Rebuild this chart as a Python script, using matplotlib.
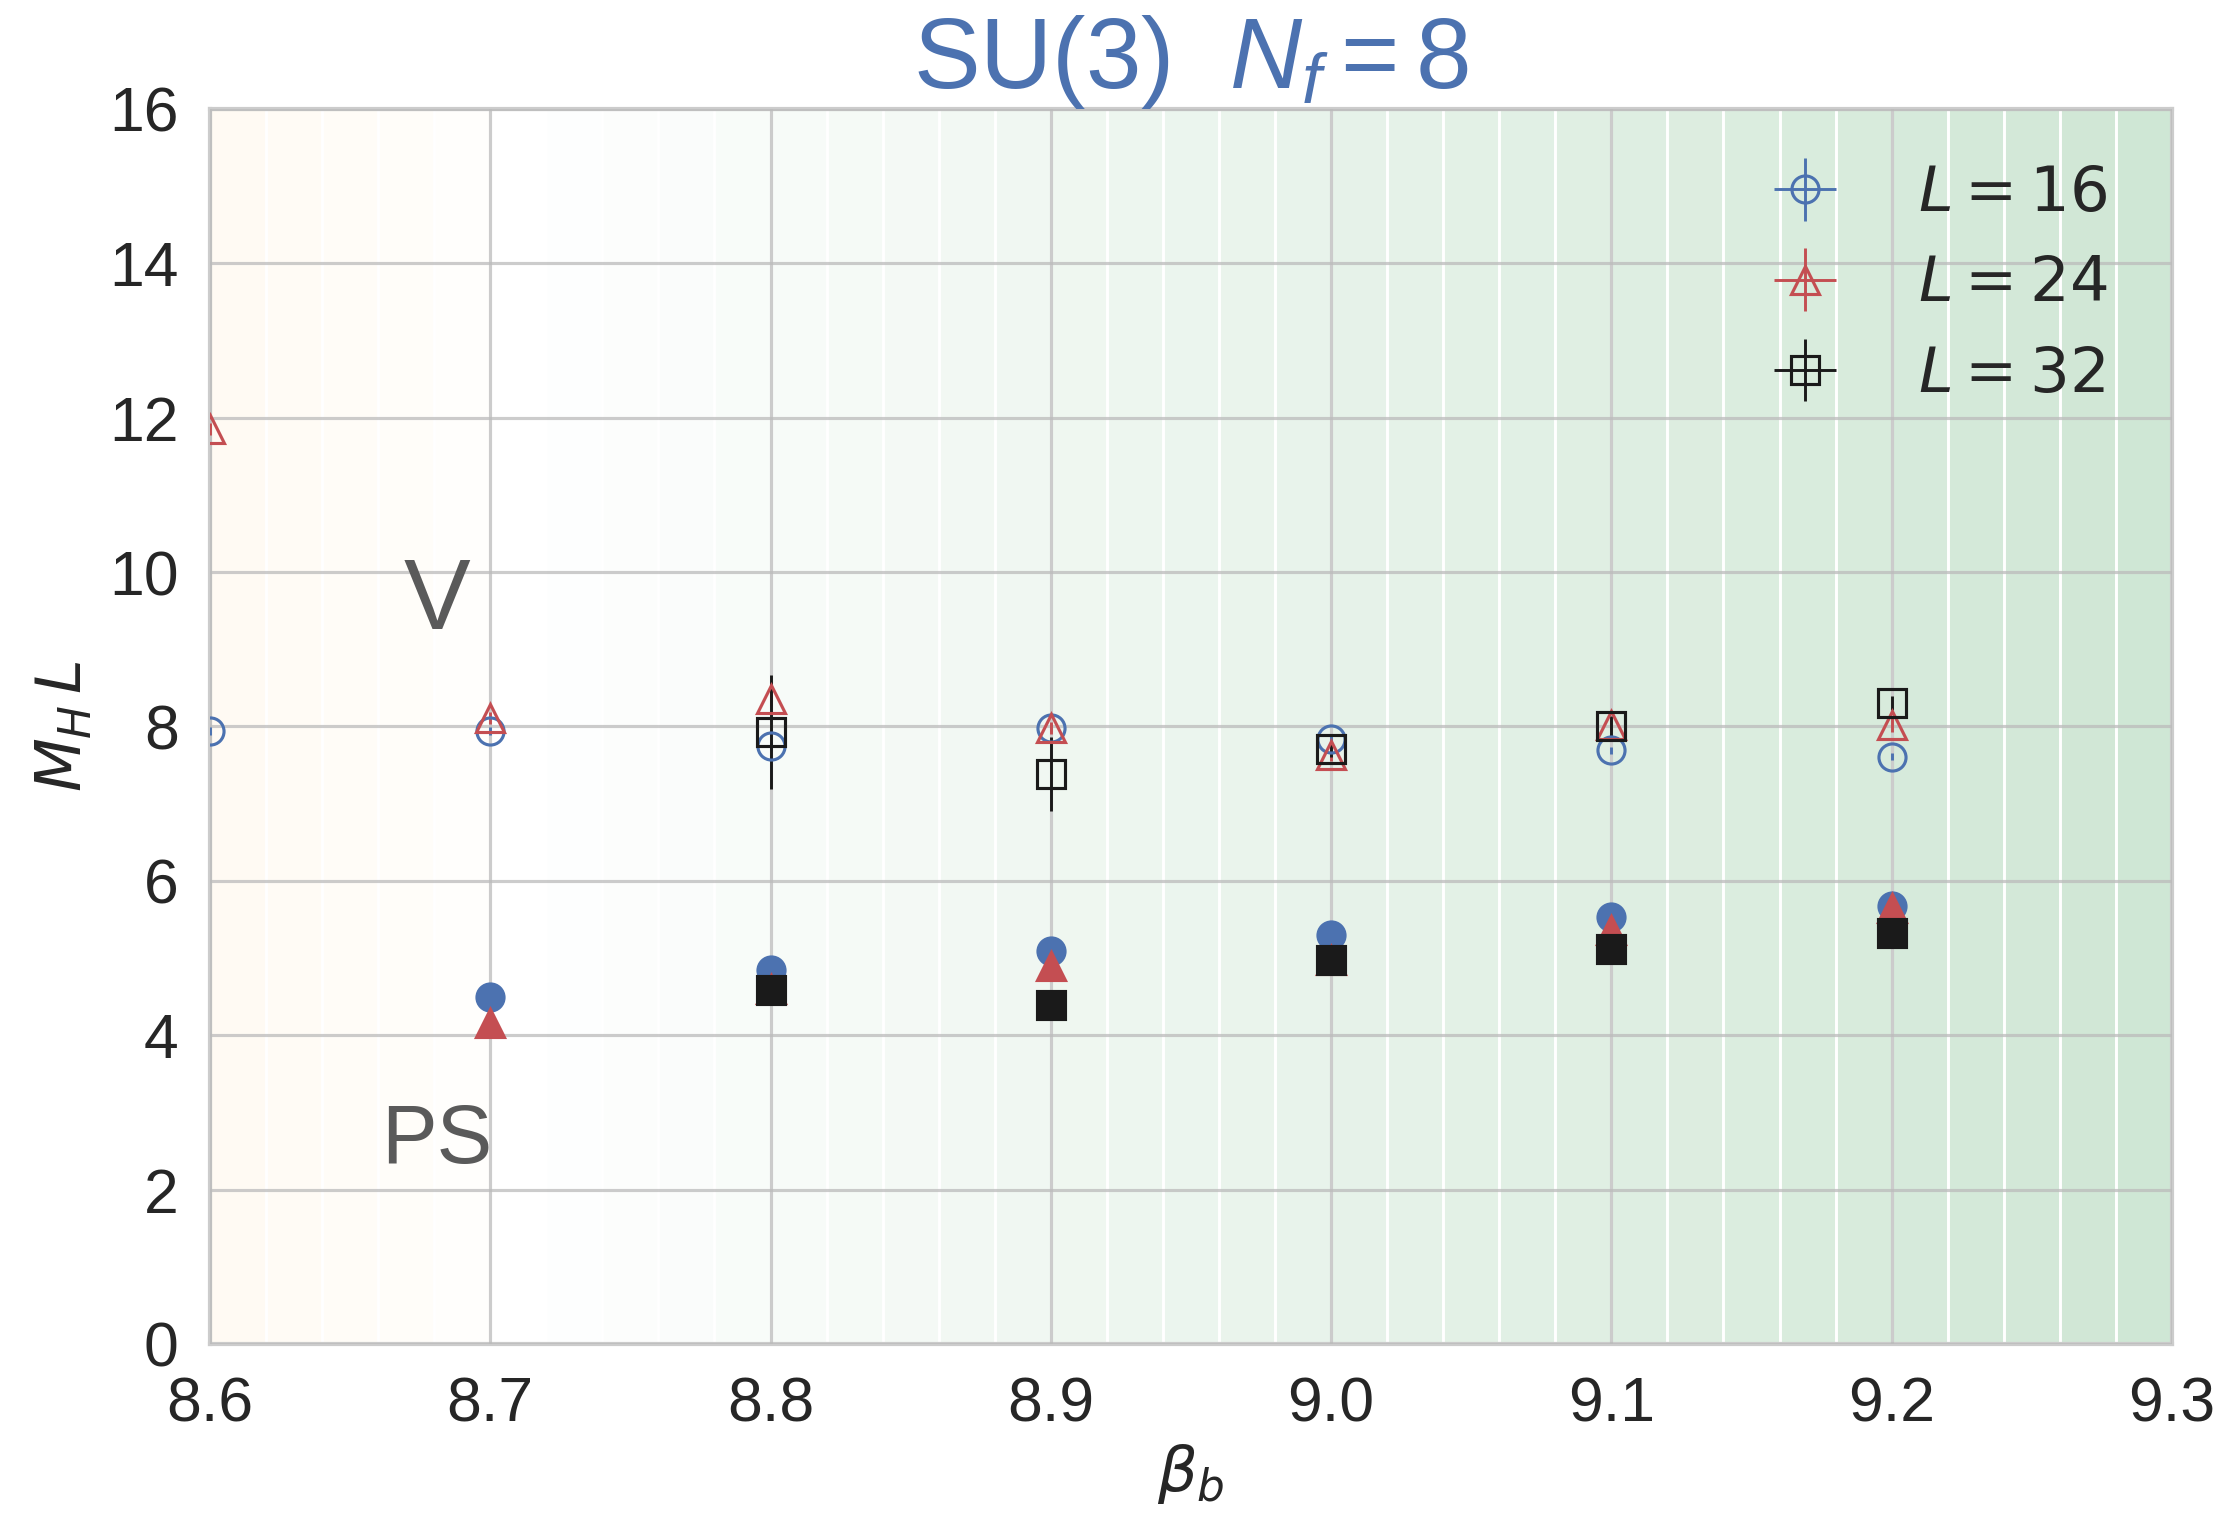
import numpy as np
import matplotlib
matplotlib.use("Agg")
import matplotlib.pyplot as plt
import matplotlib.colors as mcolors
import seaborn as sns

# vector (V) channel, open markers
beta_16 = [8.6, 8.7, 8.8, 8.9, 9.0, 9.1, 9.2]
v_16 = [7.94, 7.94, 7.75, 7.98, 7.84, 7.69, 7.61]
v_16_err = [0.05, 0.05, 0.05, 0.05, 0.05, 0.05, 0.05]
beta_24 = [8.6, 8.7, 8.8, 8.9, 9.0, 9.1, 9.2]
v_24 = [11.85, 8.11, 8.35, 7.98, 7.63, 8.02, 8.02]
v_24_err = [0.08, 0.08, 0.08, 0.08, 0.08, 0.08, 0.09]
beta_32 = [8.8, 8.9, 9.0, 9.1, 9.2]
v_32 = [7.93, 7.39, 7.71, 8.00, 8.30]
v_32_err = [0.74, 0.48, 0.10, 0.14, 0.09]

# pseudoscalar (PS) channel, filled markers
ps_beta_16 = [8.7, 8.8, 8.9, 9.0, 9.1, 9.2]
ps_16 = [4.49, 4.84, 5.09, 5.30, 5.53, 5.67]
ps_beta_24 = [8.7, 8.8, 8.9, 9.0, 9.1, 9.2]
ps_24 = [4.16, 4.60, 4.90, 4.98, 5.36, 5.65]
ps_beta_32 = [8.8, 8.9, 9.0, 9.1, 9.2]
ps_32 = [4.59, 4.39, 4.98, 5.12, 5.33]

labels = ['$L = 16$', '$L = 24$', '$L = 32$']
colors = ['#4c72b0', '#c44e52', '#1a1a1a']
markers = ['o', '^', 's']

sns.set_style('whitegrid')
plt.rcParams['font.family'] = ['Liberation Sans', 'DejaVu Sans']
plt.rcParams['mathtext.rm'] = 'Liberation Sans'
plt.rcParams['mathtext.it'] = 'Liberation Sans:italic'

fig = plt.figure(figsize=(2229 / 300, 1513 / 300), dpi=300)
ax = fig.add_axes([0.0942, 0.1117, 0.9744 - 0.0942, 0.928 - 0.1117])


def tint(c, a):
    rgb = np.array(mcolors.to_rgb(c))
    return tuple(1 - a * (1 - rgb))


# striped background: orange fading to white, then growing green
edges = np.arange(8.6, 9.3 + 1e-9, 0.02)
for e0, e1 in zip(edges[:-1], edges[1:]):
    if e0 < 8.695:
        fc = tint('#ff9f1c', 0.055 * (8.71 - e0) / 0.11)
    elif e0 < 8.715:
        fc = 'white'
    else:
        fc = tint('#55a868', 0.28 * (e1 - 8.72) / 0.58)
    ax.axvspan(e0, e1, facecolor=fc, edgecolor='white', lw=0.7, zorder=0.2)

v_sets = [(beta_16, v_16, v_16_err), (beta_24, v_24, v_24_err),
          (beta_32, v_32, v_32_err)]
ps_sets = [(ps_beta_16, ps_16), (ps_beta_24, ps_24), (ps_beta_32, ps_32)]
for i in range(3):
    b, v, err = v_sets[i]
    ax.errorbar(b, v, yerr=err, xerr=0, fmt=markers[i], color=colors[i],
                mfc='none', mec=colors[i], ms=6.5, mew=0.75, elinewidth=0.7,
                capsize=0, label=labels[i], zorder=3)
    pb, p = ps_sets[i]
    ax.errorbar(pb, p, yerr=0.02, fmt=markers[i], color=colors[i],
                ms=6.5, mew=0.75, elinewidth=0.7, capsize=0, zorder=3)

ax.text(8.681, 9.6, 'V', fontsize=24, color='#5a5a5a', ha='center',
        va='center')
ax.text(8.681, 2.63, 'PS', fontsize=20, color='#5a5a5a', ha='center',
        va='center')

ax.set_xlim(8.6, 9.3)
ax.set_ylim(0, 16)
ax.set_xticks(np.arange(8.6, 9.31, 0.1))
ax.set_xticklabels(['8.6', '8.7', '8.8', '8.9', '9.0', '9.1', '9.2', '9.3'])
ax.set_yticks(np.arange(0, 17, 2))
ax.tick_params(labelsize=15, pad=7.5, length=0, colors='#262626')
ax.set_axisbelow(False)
ax.grid(True, color='#bbbbbb', alpha=0.75, lw=0.75, zorder=0.5)
for s in ax.spines.values():
    s.set_color('#cccccc')
    s.set_linewidth(1.0)
    s.set_zorder(2.5)

ax.set_xlabel(r'$\beta_b$', fontsize=15, labelpad=1.8, color='#262626',
              math_fontfamily='dejavusans')
ax.set_ylabel(r'$M_H\,L$', fontsize=15, labelpad=3.5, color='#262626',
              math_fontfamily='dejavusans')
ax.set_title('SU(3)  $N_f = 8$', fontsize=24, color='#4c72b0', pad=5,
             math_fontfamily='custom')

leg = ax.legend(loc='upper right', fontsize=15, frameon=False,
                bbox_to_anchor=(0.9957, 1.0))
for t in leg.get_texts():
    t.set_color('#262626')
    t.set_math_fontfamily('dejavusans')

fig.savefig('out.png', dpi=300)
